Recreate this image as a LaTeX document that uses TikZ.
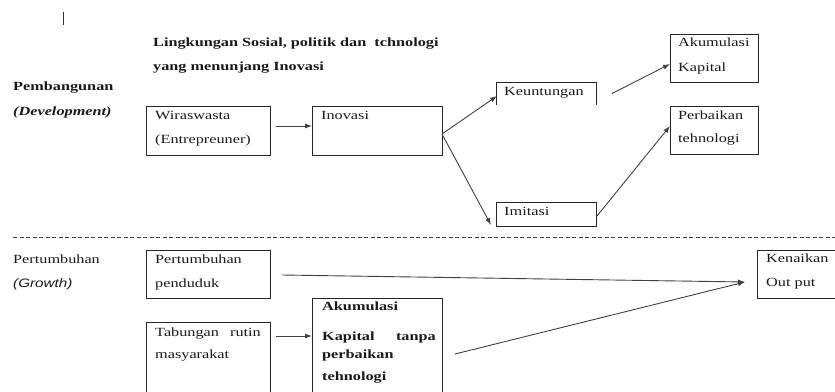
\documentclass[tikz,border=0pt]{standalone}
\usepackage{fontspec}
\setmainfont{Liberation Serif}[FakeStretch=1.3]
\newfontfamily\growthfont{Liberation Sans}[FakeStretch=1.25]
\usetikzlibrary{arrows.meta}
\tikzset{
  box/.style={draw=black!85, line width=1pt, inner sep=0pt, outer sep=0pt, anchor=north west},
  openbox/.style={inner sep=0pt, outer sep=0pt, anchor=north west},
  txt/.style={anchor=base west, inner sep=0pt, font=\fontsize{12.5}{15}\selectfont, text=black!90},
  txtr/.style={anchor=base east, inner sep=0pt, font=\fontsize{12.5}{15}\selectfont, text=black!90},
  btxt/.style={txt, font=\fontsize{12.5}{15}\selectfont\bfseries},
  arr/.style={draw=black!75, line width=0.9pt, -{Latex[length=7pt,width=5pt]}},
}
\begin{document}
\begin{tikzpicture}[x=1pt,y=-1pt]
\clip (0,0) rectangle (835,391);
\useasboundingbox (0,0) rectangle (835,391);

% small cursor mark
\coordinate (barT) at (63,12);
\coordinate (barB) at (63,25);
\draw[line width=1pt, black!80] (barT) -- (barB);

% title
\node[btxt] (title1) at (153,46.7) {Lingkungan Sosial, politik dan\ \ tchnologi};
\node[btxt] (title2) at (153,70) {yang menunjang Inovasi};

% left labels
\node[btxt] (pemb) at (13,90) {Pembangunan};
\node[txt, font=\fontsize{12.5}{15}\selectfont\bfseries\itshape] (dev) at (13,115) {(Development)};
\node[txt] (pert) at (13,263) {Pertumbuhan};
\node[txt, font=\fontsize{12.2}{15}\growthfont\itshape] (grow) at (13,287) {(Growth)};

% dashed separator
\coordinate (dashL) at (13,237);
\coordinate (dashR) at (835,237);
\draw[black!75, line width=0.9pt, dash pattern=on 4pt off 2.5pt] (dashL) -- (dashR);

% upper boxes
\node[box, minimum width=124pt, minimum height=49pt] (wira) at (146,106) {};
\node[box, minimum width=130pt, minimum height=49pt] (inov) at (312,106) {};
\node[openbox, minimum width=100pt, minimum height=23pt] (keun) at (496,82) {};
\draw[black!85, line width=1pt] (keun.south west) -- (keun.north west) -- (keun.north east) -- (keun.south east);
\node[box, minimum width=88pt, minimum height=48pt] (akum) at (670,34) {};
\node[box, minimum width=88pt, minimum height=48pt] (perb) at (670,106.5) {};
\node[box, minimum width=100pt, minimum height=24pt] (imit) at (496,202) {};

% lower boxes
\node[box, minimum width=124pt, minimum height=48pt] (pend) at (146,250) {};
\node[box, minimum width=124pt, minimum height=120pt] (tab) at (146,322) {};
\node[box, minimum width=130pt, minimum height=140pt] (tanpa) at (312,298) {};
\node[box, minimum width=120pt, minimum height=48pt] (kena) at (757,250) {};

% box texts
\node[txt] (wiraA) at (155,119.5) {Wiraswasta};
\node[txt] (wiraB) at (155,143) {(Entrepreuner)};
\node[txt] (inovA) at (321,119.5) {Inovasi};
\node[txt] (keunA) at (504,95) {Keuntungan};
\node[txt] (akumA) at (678,46.7) {Akumulasi};
\node[txt] (akumB) at (678,71) {Kapital};
\node[txt] (perbA) at (678,119) {Perbaikan};
\node[txt] (perbB) at (678,142) {tehnologi};
\node[txt] (imitA) at (504,215) {Imitasi};
\node[txt] (pendA) at (155,263) {Pertumbuhan};
\node[txt] (pendB) at (155,287) {penduduk};
\node[txt] (tabA) at (155,336.7) {Tabungan};
\node[txtr] (tabA2) at (261,336.7) {rutin};
\node[txt] (tabB) at (155,358) {masyarakat};
\node[btxt] (tanA) at (322,310) {Akumulasi};
\node[btxt] (tanB) at (322,340) {Kapital};
\node[txtr, font=\fontsize{12.5}{15}\selectfont\bfseries] (tanB2) at (436,340) {tanpa};
\node[btxt] (tanC) at (322,358) {perbaikan};
\node[btxt] (tanD) at (322,380) {tehnologi};
\node[txt] (kenaA) at (766,262.7) {Kenaikan};
\node[txt] (kenaB) at (766,286.7) {Out put};

% connectors
\coordinate (wiraOut) at ([xshift=6pt,yshift=4.5pt]wira.east);
\draw[arr] (wiraOut) -- ([yshift=4.5pt]inov.west);
\draw[arr] ([yshift=-3.5pt]inov.east) -- ([xshift=1pt,yshift=-2.5pt]keun.west);
\coordinate (keunOut) at ([xshift=16pt]keun.east);
\draw[arr] (keunOut) -- ([yshift=-6pt]akum.west);
\draw[arr] ([yshift=-3.5pt]inov.east) -- ([xshift=-5pt,yshift=1pt]imit.south west);
\draw[arr] ([xshift=1pt,yshift=-2pt]imit.east) -- ([yshift=4.5pt]perb.west);
\coordinate (pendOut) at ([xshift=12pt,yshift=-1pt]pend.east);
\coordinate (kenaIn) at ([xshift=-12pt,yshift=-8pt]kena.west);
\draw[arr] (pendOut) -- (kenaIn);
\coordinate (tanpaOut) at ([xshift=13pt,yshift=-56pt]tanpa.north east);
\draw[arr] (tanpaOut) -- (kenaIn);
\coordinate (tabOut) at ([xshift=6pt,yshift=-14pt]tab.north east);
\draw[arr] (tabOut) -- ([yshift=-38pt]tanpa.north west);
\end{tikzpicture}
\end{document}
